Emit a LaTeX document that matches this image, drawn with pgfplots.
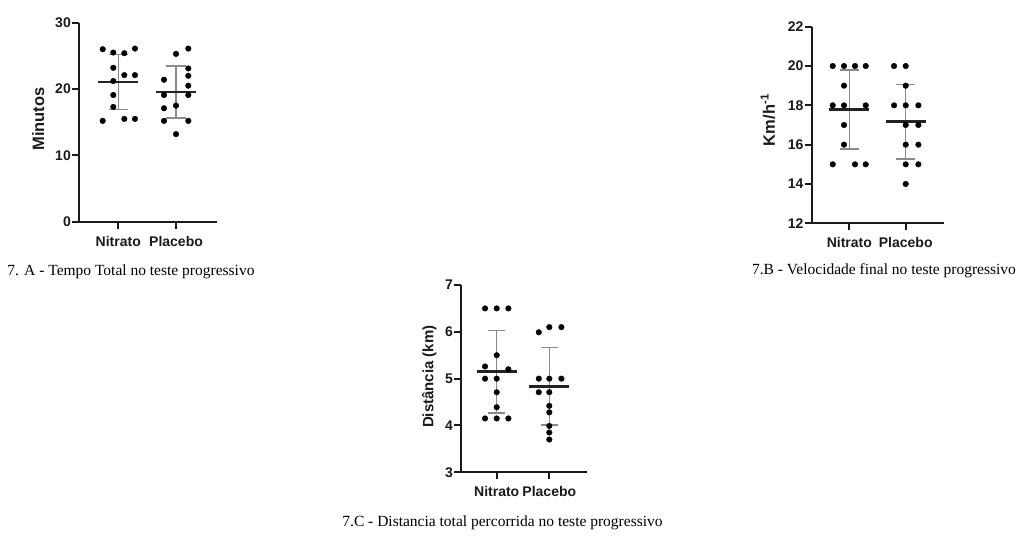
\documentclass[border=0pt]{standalone}
\usepackage{fontspec}
\setmainfont{Liberation Serif}
\setsansfont{Liberation Sans}
\usepackage{pgfplots}
\pgfplotsset{compat=1.18}
\newcommand\tickfont{\fontsize{14}{16}\selectfont\sffamily\bfseries}
\newcommand\capfont{\fontsize{15.5}{18}\selectfont\rmfamily}
\definecolor{axcol}{HTML}{1A1A1A}
\definecolor{sdcol}{HTML}{8A8A8A}
\definecolor{meancol}{HTML}{222222}
\pgfplotsset{
  scat/.style={
    scale only axis, anchor=south west, clip=false,
    axis lines=left,
    axis line style={-, line width=2pt, color=axcol},
    every tick/.style={line width=2pt, color=axcol},
    major tick length=7pt, tick align=outside,
    xtick={1,2}, xticklabels={Nitrato,Placebo},
    /pgf/number format/assume math mode=true,
    tick label style={font=\tickfont, color=axcol},
    yticklabel style={inner sep=1pt},
    xticklabel style={inner sep=2pt, yshift=-5pt},
  },
  dots/.style={only marks, mark=*, mark size=2.8pt, color=black},
  sd/.style={no marks, sdcol, line width=1.5pt},
  mean/.style={no marks, meancol, line width=2.6pt},
}
\begin{document}
\begin{tikzpicture}
\path[use as bounding box] (0pt,0pt) rectangle (1023pt,536pt);

% ---------- 7.A ----------
\begin{axis}[scat, at={(79pt,314.3pt)}, width=137.7pt, height=199pt,
  xmin=0.319, xmax=2.705, ymin=0, ymax=30, ytick={0,10,20,30}]
\addplot[dots] coordinates {
 (0.73,26.0) (0.913,25.5) (1.104,25.4) (1.289,26.1) (0.913,23.2)
 (1.104,22.1) (1.289,22.1) (0.913,21.2) (0.913,19.1) (0.913,17.3)
 (0.73,15.2) (1.104,15.5) (1.289,15.5)};
\addplot[dots] coordinates {
 (2,25.3) (2.213,26.1) (2.213,23.1) (2.213,22.0) (1.792,21.4)
 (2.213,20.5) (1.792,19.1) (2.213,19.1) (1.792,17.1) (2,17.5)
 (1.792,15.2) (2.213,15.2) (2,13.2)};
\addplot[sd] coordinates {(1,16.9) (1,25.2)};
\addplot[sd] coordinates {(0.835,25.2) (1.165,25.2)};
\addplot[sd] coordinates {(0.835,16.9) (1.165,16.9)};
\addplot[mean] coordinates {(0.653,21.05) (1.347,21.05)};
\addplot[sd] coordinates {(2,15.6) (2,23.5)};
\addplot[sd] coordinates {(1.835,23.5) (2.165,23.5)};
\addplot[sd] coordinates {(1.835,15.6) (2.165,15.6)};
\addplot[mean] coordinates {(1.653,19.55) (2.347,19.55)};
\end{axis}
\node[rotate=90, font=\fontsize{16.5}{18}\selectfont\sffamily\bfseries, color=axcol] at (38.3pt,417pt) {Minutos};
\node[font=\capfont] at (131pt,264pt) {7. A - Tempo Total no teste progressivo};

% ---------- 7.B ----------
\begin{axis}[scat, at={(811.7pt,312.7pt)}, width=132.3pt, height=196.6pt,
  xmin=0.333, xmax=2.679, ymin=12, ymax=22, ytick={12,14,16,18,20,22}]
\addplot[dots] coordinates {
 (0.706,20) (0.906,20) (1.101,20) (1.291,20) (0.906,19)
 (0.706,18) (0.906,18) (1.291,18) (0.906,17) (0.906,16)
 (0.706,15) (1.101,15) (1.291,15)};
\addplot[dots] coordinates {
 (1.793,20) (2,20) (2,19) (1.793,18) (2,18) (2.225,18)
 (2,17) (2.225,17) (2,16) (2.225,16) (2,15) (2.225,15) (2,14)};
\addplot[sd] coordinates {(1,15.77) (1,19.8)};
\addplot[sd] coordinates {(0.83,19.8) (1.17,19.8)};
\addplot[sd] coordinates {(0.83,15.77) (1.17,15.77)};
\addplot[mean] coordinates {(0.645,17.8) (1.355,17.8)};
\addplot[sd] coordinates {(2,15.26) (2,19.07)};
\addplot[sd] coordinates {(1.83,19.07) (2.17,19.07)};
\addplot[sd] coordinates {(1.83,15.26) (2.17,15.26)};
\addplot[mean] coordinates {(1.645,17.17) (2.355,17.17)};
\end{axis}
\node[rotate=90, font=\fontsize{16.5}{18}\selectfont\sffamily\bfseries, color=axcol] at (768pt,416pt) {Km/h\textsuperscript{-1}};
\node[font=\capfont] at (884pt,265pt) {7.B - Velocidade final no teste progressivo};

% ---------- 7.C ----------
\begin{axis}[scat, at={(461pt,63.7pt)}, width=125.7pt, height=187.3pt,
  xmin=0.321, xmax=2.711, ymin=3, ymax=7, ytick={3,4,5,6,7}]
\addplot[dots] coordinates {
 (0.778,6.5) (1,6.5) (1.222,6.5) (1,5.5) (0.778,5.26) (1.222,5.2)
 (0.778,5.0) (1,5.0) (1,4.71) (1,4.39) (0.778,4.15) (1,4.15) (1.222,4.15)};
\addplot[dots] coordinates {
 (1.8,5.99) (2,6.1) (2.23,6.1) (1.8,5.0) (2,5.0) (2.23,5.0)
 (1.8,4.71) (2,4.71) (2,4.42) (2,4.28) (2,3.99) (2,3.85) (2,3.70)};
\addplot[sd] coordinates {(1,4.27) (1,6.03)};
\addplot[sd] coordinates {(0.84,6.03) (1.16,6.03)};
\addplot[sd] coordinates {(0.84,4.27) (1.16,4.27)};
\addplot[mean] coordinates {(0.62,5.155) (1.38,5.155)};
\addplot[sd] coordinates {(2,4.01) (2,5.66)};
\addplot[sd] coordinates {(1.84,5.66) (2.16,5.66)};
\addplot[sd] coordinates {(1.84,4.01) (2.16,4.01)};
\addplot[mean] coordinates {(1.62,4.835) (2.38,4.835)};
\end{axis}
\node[rotate=90, font=\fontsize{15}{17}\selectfont\sffamily\bfseries, color=axcol] at (429.3pt,159.3pt) {Distância (km)};
\node[font=\capfont] at (502.5pt,13pt) {7.C - Distancia total percorrida no teste progressivo};
\end{tikzpicture}
\end{document}
